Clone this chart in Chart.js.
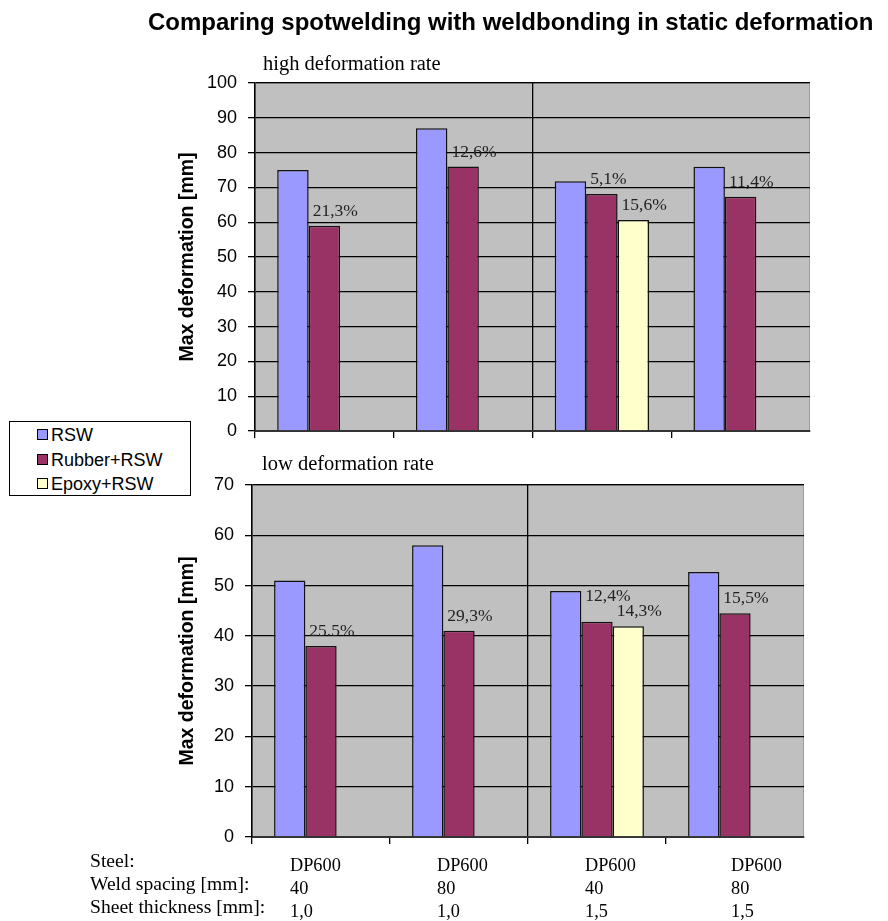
<!DOCTYPE html>
<html>
<head>
<meta charset="utf-8">
<script src="https://cdn.jsdelivr.net/npm/chart.js@4.4.1/dist/chart.umd.min.js"></script>
<style>
  body { margin: 0; background: #fff; }
  #page { position: relative; width: 888px; height: 921px; overflow: hidden; font-family: "Liberation Sans", Arial, sans-serif; }
  canvas { position: absolute; left: 0; }
  #highCanvas { top: 0; }
  #lowCanvas { top: 460px; }
  .txt { position: absolute; white-space: nowrap; color: #000; }
  #title { left: 148px; top: 8px; font-size: 24px; font-weight: bold; line-height: 28px; }
  .sub { font-family: "Liberation Serif", "Times New Roman", serif; font-size: 20.5px; line-height: 22px; }
  #legend { position: absolute; left: 9px; top: 421px; width: 180px; height: 73px; border: 1.5px solid #000; background: #fff; z-index: 2; }
  .item { position: absolute; left: 27px; font-size: 18px; line-height: 22px; }
  .swatch { display: inline-block; width: 9px; height: 9px; border: 1px solid #000; margin-right: 3px; vertical-align: 1px; }
  .table { font-family: "Liberation Serif", "Times New Roman", serif; line-height: 23px; }
</style>
</head>
<body>
<div id="page">
  <canvas id="highCanvas" width="888" height="460"></canvas>
  <canvas id="lowCanvas" width="888" height="461"></canvas>
  <div id="title" class="txt">Comparing spotwelding with weldbonding in static deformation</div>
  <div class="txt sub" style="left:263px; top:52px;">high deformation rate</div>
  <div class="txt sub" style="left:262px; top:452px;">low deformation rate</div>
  <div id="legend"></div>
  <div id="table"></div>
</div>
<script>
// test specimens
const steel = ['DP600', 'DP600', 'DP600', 'DP600'];
const weldSpacing = ['40', '80', '40', '80'];
const sheetThickness = ['1,0', '1,0', '1,5', '1,5'];
const rowNames = ['Steel:', 'Weld spacing [mm]:', 'Sheet thickness [mm]:'];

const seriesNames = ['RSW', 'Rubber+RSW', 'Epoxy+RSW'];
const seriesColors = ['#9999ff', '#993366', '#ffffcc'];

// high deformation rate, max deformation in mm
const highRSW = [75, 87, 71.8, 75.9];
const highRubber = [59, 76, 68.1, 67.3];
const highEpoxy = [null, null, 60.6, null];
const highRubberPct = ['21,3%', '12,6%', '5,1%', '11,4%'];
const highEpoxyPct = [null, null, '15,6%', null];

// low deformation rate
const lowRSW = [51, 58, 48.9, 52.7];
const lowRubber = [38, 41, 42.8, 44.5];
const lowEpoxy = [null, null, 41.9, null];
const lowRubberPct = ['25.5%', '29,3%', '12,4%', '15,5%'];
const lowEpoxyPct = [null, null, '14,3%', null];

const categories = steel.map((s, i) => [s, weldSpacing[i], sheetThickness[i]].join(' '));

const plotBackground = {
  id: 'plotBackground',
  beforeDraw(chart) {
    const { ctx, chartArea: a } = chart;
    ctx.save();
    ctx.fillStyle = '#c0c0c0';
    ctx.fillRect(a.left, a.top, a.width, a.height);
    ctx.strokeStyle = '#9c9c9c';
    ctx.lineWidth = 1;
    ctx.strokeRect(a.left + 0.5, a.top + 0.5, a.width - 1, a.height - 1);
    ctx.restore();
  }
};

// reduction percentages written above the bonded bars
const barLabels = {
  id: 'barLabels',
  afterDatasetsDraw(chart, args, opts) {
    const ctx = chart.ctx;
    ctx.save();
    ctx.font = '17.5px "Liberation Serif", "Times New Roman", serif';
    ctx.fillStyle = '#222';
    ctx.textAlign = 'left';
    ctx.textBaseline = 'alphabetic';
    chart.data.datasets.forEach((ds, di) => {
      if (!ds.pctLabels) return;
      chart.getDatasetMeta(di).data.forEach((bar, i) => {
        const text = ds.pctLabels[i];
        if (!text) return;
        const lift = (opts.lift && opts.lift[di] && opts.lift[di][i]) || 0;
        ctx.fillText(text, bar.x - bar.width / 2 + 4, bar.y - 10 - lift);
      });
    });
    ctx.restore();
  }
};

function makeChart(id, values, pcts, cfg) {
  const datasets = values.map((v, i) => ({
    label: seriesNames[i],
    data: v,
    pctLabels: pcts[i],
    backgroundColor: seriesColors[i],
    borderColor: '#111',
    borderWidth: 1.5,
    borderSkipped: 'bottom',
    categoryPercentage: 0.68,
    barPercentage: 1
  }));

  return new Chart(document.getElementById(id), {
    type: 'bar',
    data: { labels: categories, datasets },
    plugins: [plotBackground, barLabels],
    options: {
      responsive: false,
      animation: false,
      devicePixelRatio: 1,
      layout: { padding: cfg.padding },
      plugins: {
        legend: { display: false },
        tooltip: { enabled: false },
        barLabels: { lift: cfg.lift }
      },
      scales: {
        x: {
          grid: {
            offset: true,
            color: c => c.index === 2 ? '#000' : 'rgba(0,0,0,0)',
            tickColor: c => c.index < 4 ? '#000' : 'rgba(0,0,0,0)',
            tickLength: 7,
            lineWidth: 1.3
          },
          border: { color: '#333', width: 2 },
          ticks: { display: false },
          afterFit: s => { s.height = cfg.xHeight; }
        },
        y: {
          min: 0,
          max: cfg.max,
          ticks: {
            stepSize: 10,
            padding: 11,
            color: '#000',
            font: { family: '"Liberation Sans", Arial, sans-serif', size: 18 }
          },
          grid: { color: '#000', lineWidth: 1.3, tickLength: 7, tickColor: '#000' },
          border: { color: '#000', width: 1.5 },
          title: {
            display: true,
            text: 'Max deformation [mm]',
            color: '#000',
            padding: { top: 6, bottom: 0 },
            font: { family: '"Liberation Sans", Arial, sans-serif', size: 19.5, weight: 'bold' }
          },
          afterFit: s => { s.width = cfg.yWidth; }
        }
      }
    }
  });
}

makeChart('highCanvas',
  [highRSW, highRubber, highEpoxy],
  [null, highRubberPct, highEpoxyPct],
  { max: 100, padding: { left: 170, top: 83, right: 78, bottom: 0 }, xHeight: 29, yWidth: 85 });

makeChart('lowCanvas',
  [lowRSW, lowRubber, lowEpoxy],
  [null, lowRubberPct, lowEpoxyPct],
  { max: 70, padding: { left: 170, top: 25, right: 84, bottom: 0 }, xHeight: 84, yWidth: 82,
    lift: { 1: { 2: 11 } } });

// legend
const legend = document.getElementById('legend');
seriesNames.forEach((name, i) => {
  const row = document.createElement('div');
  row.className = 'item';
  row.style.top = (2 + i * 24.5) + 'px';
  row.innerHTML = '<span class="swatch" style="background:' + seriesColors[i] + '"></span>' + name;
  legend.appendChild(row);
});

// specimen table under the lower chart
const table = document.getElementById('table');
const colLeft = [290, 437, 585, 731];
const rowLabels = document.createElement('div');
rowLabels.className = 'txt table';
rowLabels.style.left = '90px';
rowLabels.style.top = '849px';
rowLabels.style.fontSize = '19.6px';
rowLabels.innerHTML = rowNames.join('<br>');
table.appendChild(rowLabels);
steel.forEach((s, i) => {
  const col = document.createElement('div');
  col.className = 'txt table';
  col.style.left = colLeft[i] + 'px';
  col.style.top = '854px';
  col.style.fontSize = '18.3px';
  col.innerHTML = [s, weldSpacing[i], sheetThickness[i]].join('<br>');
  table.appendChild(col);
});
</script>
</body>
</html>
